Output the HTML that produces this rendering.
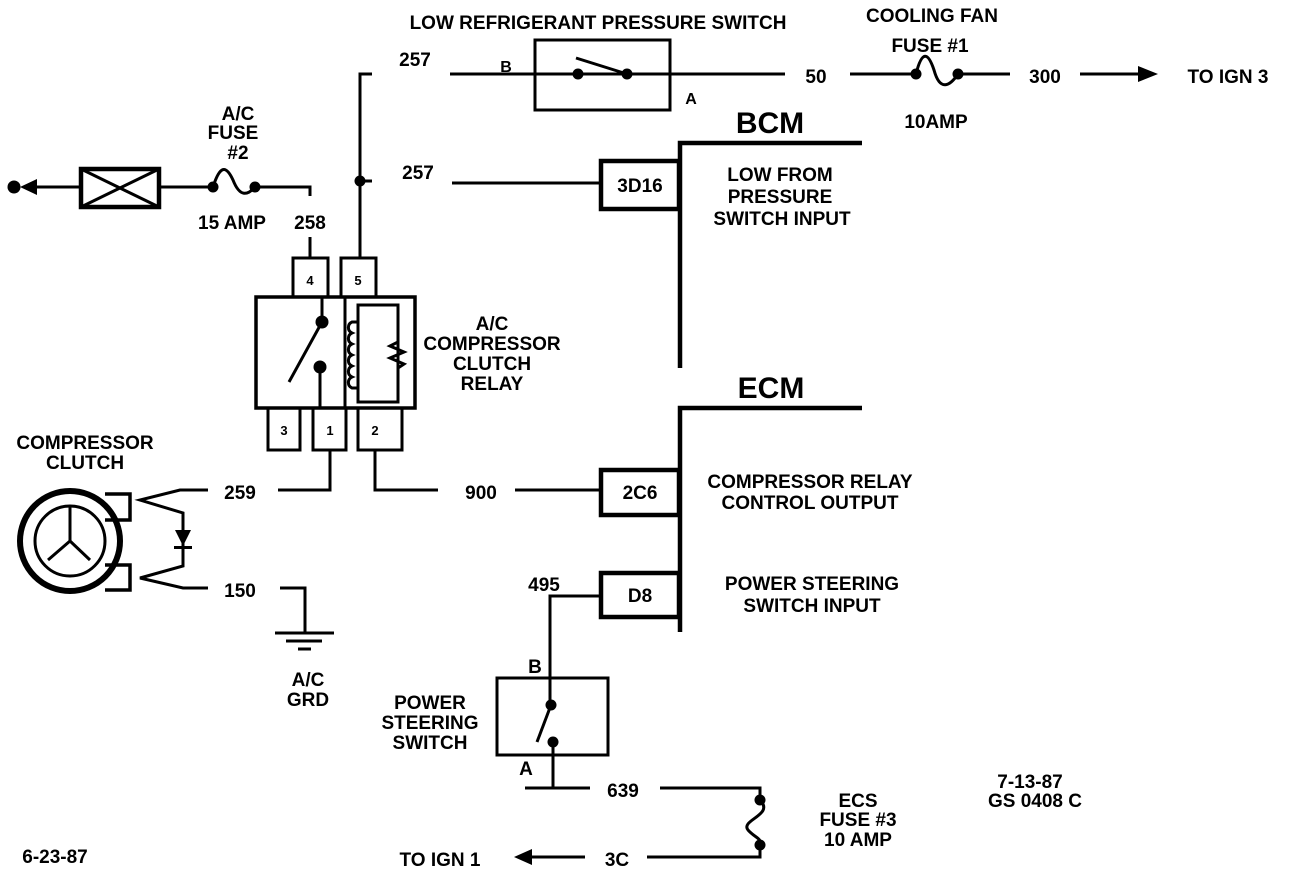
<!DOCTYPE html>
<html><head><style>
body{margin:0;background:#fff}
svg text{font-family:"Liberation Sans",sans-serif;font-weight:bold;fill:#000;text-anchor:middle}
</style></head><body>
<svg width="1312" height="884" viewBox="0 0 1312 884" xmlns="http://www.w3.org/2000/svg">
<g stroke="#000" stroke-width="3" fill="none">
<polyline points="372,74 360,74 360,258"/>
<line x1="450" y1="74" x2="785" y2="74"/>
<rect x="535" y="40" width="135" height="70"/>
<line x1="576" y1="58" x2="627" y2="74"/>
<line x1="850" y1="74" x2="916" y2="74"/>
<path d="M916,74 C922,50 928,52 934,70 C940,92 950,86 958,74"/>
<line x1="958" y1="74" x2="1010" y2="74"/>
<line x1="1080" y1="74" x2="1140" y2="74"/>
<line x1="360" y1="181" x2="372" y2="181"/>
<line x1="452" y1="183" x2="600" y2="183"/>
<rect x="601" y="161" width="78" height="48" stroke-width="4.5"/>
<polyline points="862,143 680,143 680,368" stroke-width="4.5"/>
<line x1="34" y1="187" x2="80" y2="187"/>
<rect x="81" y="169" width="78" height="38" stroke-width="4.5"/>
<line x1="81" y1="169" x2="159" y2="207"/><line x1="81" y1="207" x2="159" y2="169"/>
<line x1="159" y1="187" x2="213" y2="187"/>
<path d="M213,187 C220,165 226,165 233,180 C240,198 248,195 255,187"/>
<polyline points="255,187 310,187 310,196"/>
<line x1="310" y1="237" x2="310" y2="258"/>
<rect x="293" y="258" width="35" height="39"/>
<rect x="341" y="258" width="35" height="39"/>
<rect x="256" y="297" width="159" height="111" stroke-width="3.5"/>
<line x1="345" y1="297" x2="345" y2="408"/>
<rect x="358" y="305" width="40" height="97"/>
<line x1="322" y1="297" x2="322" y2="322"/>
<line x1="322" y1="322" x2="289" y2="382"/>
<line x1="320" y1="367" x2="320" y2="408"/>
<path d="M358,322 h-6 a6,6 0 0,0 0,11 a6,6 0 0,0 0,11 a6,6 0 0,0 0,11 a6,6 0 0,0 0,11 a6,6 0 0,0 0,11 a6,6 0 0,0 0,11 h6"/>
<polyline points="398,335 398,342 390,346 404,352 390,358 404,364 398,368 398,375"/>
<rect x="268" y="408" width="32" height="42"/>
<rect x="313" y="408" width="33" height="42"/>
<rect x="358" y="408" width="44" height="42"/>
<polyline points="330,450 330,490 278,490"/>
<polyline points="375,450 375,490 438,490"/>
<line x1="515" y1="490" x2="600" y2="490"/>
<rect x="601" y="470" width="78" height="45" stroke-width="4.5"/>
<polyline points="862,408 680,408 680,632" stroke-width="4.5"/>
<rect x="601" y="573" width="78" height="44" stroke-width="4.5"/>
<polyline points="600,596 550,596 550,705"/>
<rect x="497" y="678" width="111" height="77"/>
<line x1="551" y1="705" x2="537" y2="742"/>
<line x1="553" y1="742" x2="553" y2="788"/>
<line x1="525" y1="788" x2="590" y2="788"/>
<polyline points="660,788 760,788 760,800"/>
<path d="M760,800 C775,815 740,820 748,830 C755,838 762,838 760,845"/>
<polyline points="760,845 760,857 647,857"/>
<line x1="530" y1="857" x2="585" y2="857"/>
<circle cx="70" cy="541" r="50" stroke-width="6"/>
<circle cx="70" cy="541" r="35"/>
<line x1="70" y1="541" x2="70" y2="506"/>
<line x1="70" y1="541" x2="48" y2="560"/>
<line x1="70" y1="541" x2="90" y2="560"/>
<polyline points="105,494 130,494 130,520 105,520" stroke-width="3.5"/>
<polyline points="105,565 130,565 130,590 105,590" stroke-width="3.5"/>
<polyline points="208,490 180,490 140,500 183,513 183,566 140,578 183,588 208,588"/>
<polyline points="280,588 305,588 305,633"/>
<line x1="275" y1="633" x2="334" y2="633"/>
<line x1="286" y1="641" x2="322" y2="641"/>
<line x1="298" y1="649" x2="311" y2="649"/>
</g>
<g fill="#000">
<circle cx="578" cy="74" r="5.5"/><circle cx="627" cy="74" r="5.5"/>
<circle cx="916" cy="74" r="5.5"/><circle cx="958" cy="74" r="5.5"/>
<polygon points="1158,74 1138,66 1138,82"/>
<circle cx="360" cy="181" r="5.5"/>
<circle cx="14" cy="187" r="6.5"/><polygon points="20,187 37,179 37,195"/>
<circle cx="213" cy="187" r="5.5"/><circle cx="255" cy="187" r="5.5"/>
<circle cx="322" cy="322" r="6.5"/><circle cx="320" cy="367" r="6.5"/>
<circle cx="551" cy="705" r="5.5"/><circle cx="553" cy="742" r="5.5"/>
<circle cx="760" cy="800" r="5.5"/><circle cx="760" cy="845" r="5.5"/>
<polygon points="514,857 532,849 532,865"/>
<polygon points="175,530 191,530 183,546"/>
<rect x="174" y="546" width="18" height="3"/>
</g>
<g font-size="19">
<text x="598" y="29">LOW REFRIGERANT PRESSURE SWITCH</text>
<text x="932" y="22">COOLING FAN</text>
<text x="930" y="52">FUSE #1</text>
<text x="936" y="128">10AMP</text>
<text x="415" y="66">257</text>
<text x="506" y="72" font-size="16">B</text>
<text x="691" y="104" font-size="16">A</text>
<text x="816" y="83">50</text>
<text x="1045" y="83">300</text>
<text x="1228" y="83">TO IGN 3</text>
<text x="770" y="133" font-size="30">BCM</text>
<text x="418" y="179">257</text>
<text x="640" y="192">3D16</text>
<text x="780" y="181">LOW FROM</text>
<text x="780" y="203">PRESSURE</text>
<text x="782" y="225">SWITCH INPUT</text>
<text x="238" y="120">A/C</text>
<text x="233" y="139">FUSE</text>
<text x="238" y="159">#2</text>
<text x="232" y="229">15 AMP</text>
<text x="310" y="229">258</text>
<text x="310" y="285" font-size="13">4</text>
<text x="358" y="285" font-size="13">5</text>
<text x="284" y="435" font-size="13">3</text>
<text x="330" y="435" font-size="13">1</text>
<text x="375" y="435" font-size="13">2</text>
<text x="492" y="330">A/C</text>
<text x="492" y="350">COMPRESSOR</text>
<text x="492" y="370">CLUTCH</text>
<text x="492" y="390">RELAY</text>
<text x="771" y="398" font-size="30">ECM</text>
<text x="85" y="449">COMPRESSOR</text>
<text x="85" y="469">CLUTCH</text>
<text x="240" y="499">259</text>
<text x="481" y="499">900</text>
<text x="640" y="499">2C6</text>
<text x="810" y="488">COMPRESSOR RELAY</text>
<text x="810" y="509">CONTROL OUTPUT</text>
<text x="240" y="597">150</text>
<text x="544" y="591">495</text>
<text x="640" y="602">D8</text>
<text x="812" y="590">POWER STEERING</text>
<text x="812" y="612">SWITCH INPUT</text>
<text x="308" y="686">A/C</text>
<text x="308" y="706">GRD</text>
<text x="535" y="673">B</text>
<text x="526" y="775">A</text>
<text x="430" y="709">POWER</text>
<text x="430" y="729">STEERING</text>
<text x="430" y="749">SWITCH</text>
<text x="623" y="797">639</text>
<text x="858" y="807">ECS</text>
<text x="858" y="826">FUSE #3</text>
<text x="858" y="846">10 AMP</text>
<text x="1030" y="788">7-13-87</text>
<text x="1035" y="807">GS 0408 C</text>
<text x="617" y="866">3C</text>
<text x="440" y="866">TO IGN 1</text>
<text x="55" y="863">6-23-87</text>
</g>
</svg>
</body></html>
